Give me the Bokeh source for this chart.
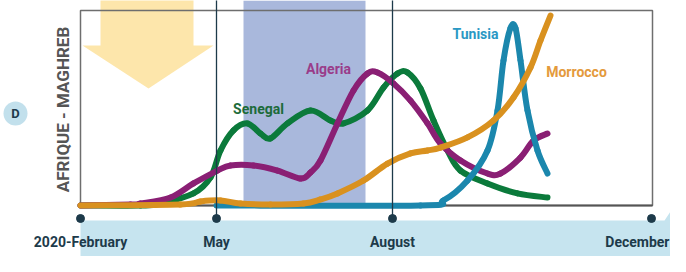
import math
from bokeh.plotting import figure
from bokeh.models import Range1d, Label
from bokeh.core.properties import value
from bokeh.embed import file_html
from bokeh.resources import INLINE

# ---------------- data ----------------
tick_pos = [80, 216, 392, 651]
tick_labels = ["2020-February", "May", "August", "December"]

senegal_x = [80, 140, 160, 193, 210, 220, 233, 247, 260, 270, 287, 310, 330, 343,
             367, 383, 397, 407, 420, 433, 447, 460, 487, 517, 547]
senegal_y = [0, 0, 1.0, 6.2, 14.4, 28.2, 38.5, 42.1, 36.9, 34.4, 42.1, 48.7, 43.6, 42.1,
             48.7, 60.5, 67.7, 68.2, 60.0, 43.6, 28.2, 17.9, 11.3, 6.2, 4.1]

algeria_x = [80, 130, 140, 170, 193, 217, 230, 253, 277, 300, 310, 320, 337, 353,
             367, 377, 393, 410, 427, 440, 460, 487, 500, 520, 533, 547]
algeria_y = [0, 0.5, 1.0, 4.1, 11.3, 17.9, 20.5, 20.5, 17.9, 13.8, 16.9, 23.1, 42.1, 59.0,
             67.7, 68.2, 62.6, 53.8, 42.1, 31.8, 23.1, 16.4, 16.4, 24.6, 33.3, 36.9]

morocco_x = [80, 180, 200, 220, 240, 270, 303, 320, 337, 363, 387, 410, 427, 440,
             467, 493, 513, 530, 540, 550]
morocco_y = [0, 0.5, 2.1, 2.6, 1.0, 0.5, 1.0, 3.1, 6.2, 12.8, 21.5, 26.7, 28.2, 29.7,
             34.9, 43.6, 55.4, 70.8, 84.6, 97.4]

tunisia_x = [216, 420, 443, 467, 487, 497, 503, 510, 515, 520, 527, 537, 547]
tunisia_y = [0, 0, 2.6, 12.8, 28.2, 48.7, 74.4, 91.0, 91.0, 74.4, 48.7, 28.2, 16.4]

series_names = ["Senegal", "Algeria", "Tunisia", "Morrocco"]

# ---------------- helpers ----------------
def Y(yref):
    # convert a vertical layout position (px from top) to level units
    return (205 - yref) / 1.95

FONT = "Roboto"
NAVY = "#1d3a4a"

p = figure(width=670, height=256, x_range=Range1d(0, 670), y_range=Range1d(Y(256), Y(0)),
           output_backend="svg", toolbar_location=None, min_border=0)
p.axis.visible = False
p.grid.visible = False
p.outline_line_color = None
p.background_fill_color = "white"


def smooth(xs, ys, color):
    # Catmull-Rom rendering of the read points with bezier glyphs
    n = len(xs)
    x0, y0, x1, y1, cx0, cy0, cx1, cy1 = [], [], [], [], [], [], [], []
    for i in range(n - 1):
        xa, ya = xs[max(i - 1, 0)], ys[max(i - 1, 0)]
        xb, yb = xs[i], ys[i]
        xc, yc = xs[i + 1], ys[i + 1]
        xd, yd = xs[min(i + 2, n - 1)], ys[min(i + 2, n - 1)]
        x0.append(xb); y0.append(yb); x1.append(xc); y1.append(yc)
        cx0.append(xb + (xc - xa) / 6); cy0.append(yb + (yc - ya) / 6)
        cx1.append(xc - (xd - xb) / 6); cy1.append(yc - (yd - yb) / 6)
    p.bezier(x0=x0, y0=y0, x1=x1, y1=y1, cx0=cx0, cy0=cy0, cx1=cx1, cy1=cy1,
             line_color=color, line_width=6, line_cap="round")


# shaded period
p.quad(left=243, right=365, bottom=0, top=Y(0), fill_color="#a9b8dc", line_color=None)

# yellow arrow
p.patch([100, 193, 193, 213, 148, 82, 100], [Y(-5), Y(-5), Y(45), Y(45), Y(88), Y(45), Y(45)],
        fill_color="#fde3a2", line_color=None, fill_alpha=0.9)

# frame box
p.quad(left=80, right=652, bottom=0, top=Y(10), fill_color=None, line_color="#6e6e6e", line_width=1.5)
p.segment(x0=80, y0=0, x1=652, y1=0, line_color="#555555", line_width=2)

# timeline band
p.patch([80, 664, 670, 686, 670, 664, 80],
        [Y(220), Y(220), Y(211), Y(242), Y(272), Y(268), Y(268)],
        fill_color="#c6e4ef", line_color=None)

# curves
smooth(senegal_x, senegal_y, "#0b7a3b")
smooth(algeria_x, algeria_y, "#8a1f74")
smooth(tunisia_x, tunisia_y, "#1b87ad")
smooth(morocco_x, morocco_y, "#d9911f")

# vertical markers
p.segment(x0=tick_pos[1:3], y0=[Y(-5)] * 2, x1=tick_pos[1:3], y1=[Y(218)] * 2,
          line_color=NAVY, line_width=1.3)
p.scatter(x=tick_pos, y=[Y(218)] * 4, size=8, color=NAVY)

p.text(x=tick_pos[:3], y=[Y(241)] * 3, text=tick_labels[:3], text_align="center", text_baseline="middle",
       text_font=value(FONT), text_font_size="14px", text_font_style="bold", text_color=NAVY)
p.text(x=[669], y=[Y(241)], text=tick_labels[3:], text_align="right", text_baseline="middle",
       text_font=value(FONT), text_font_size="14px", text_font_style="bold", text_color=NAVY)

# series labels
lab_x = [258, 328, 475, 576]
lab_y = [Y(108), Y(68), Y(33), Y(71)]
lab_col = ["#1c6b3a", "#9a3c8a", "#2a98c4", "#e49a3c"]
p.text(x=lab_x, y=lab_y, text=series_names, text_align="center", text_baseline="middle",
       text_font=value(FONT), text_font_size="14px", text_font_style="bold", text_color=lab_col)

# D circle
p.scatter(x=[15], y=[Y(113)], size=24, fill_color="#c2e0ec", line_color=None)
p.text(x=[15], y=[Y(113)], text=["D"], text_align="center", text_baseline="middle",
       text_font=value(FONT), text_font_size="13px", text_font_style="bold", text_color=NAVY)

# rotated region title
p.add_layout(Label(x=62, y=Y(109), text="AFRIQUE - MAGHREB", angle=math.pi / 2,
                   text_align="center", text_baseline="middle", text_font=FONT,
                   text_font_size="17px", text_font_style="bold", text_color="#555555"))

open("out.html", "w").write(file_html(p, INLINE))
